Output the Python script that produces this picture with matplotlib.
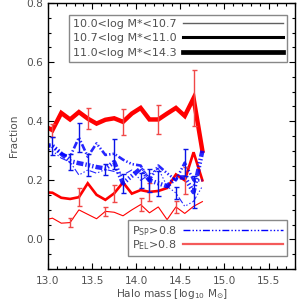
import numpy as np
import matplotlib
matplotlib.use("Agg")
import matplotlib.pyplot as plt
from matplotlib.lines import Line2D
from matplotlib.ticker import MultipleLocator

# bins de masa de halo (centros)
HALO = [12.95, 13.05, 13.15, 13.25, 13.35, 13.45, 13.55, 13.65, 13.75, 13.85,
        13.95, 14.05, 14.15, 14.25, 14.35, 14.45, 14.55, 14.65, 14.75]

# fraccion de eliticas (P_EL > 0.8) por bin de masa estelar
EL_LO = [0.065, 0.072, 0.055, 0.057, 0.100, 0.085, 0.070, 0.095, 0.092, 0.080,
         0.100, 0.118, 0.090, 0.110, 0.067, 0.110, 0.088, 0.112, 0.128]
EL_MID = [0.160, 0.158, 0.141, 0.137, 0.143, 0.190, 0.151, 0.134, 0.156, 0.193,
          0.155, 0.167, 0.161, 0.164, 0.174, 0.220, 0.200, 0.295, 0.200]
EL_HI = [0.385, 0.370, 0.428, 0.406, 0.431, 0.409, 0.392, 0.405, 0.410, 0.398,
         0.426, 0.445, 0.406, 0.406, 0.426, 0.445, 0.418, 0.478, 0.300]

# fraccion de espirales (P_SP > 0.8)
SP_LO = [0.310, 0.300, 0.275, 0.262, 0.218, 0.235, 0.224, 0.237, 0.230, 0.218,
         0.235, 0.200, 0.220, 0.240, 0.180, 0.157, 0.112, 0.129, 0.180]
SP_MID = [0.320, 0.315, 0.290, 0.280, 0.345, 0.280, 0.325, 0.286, 0.290, 0.270,
          0.255, 0.250, 0.200, 0.250, 0.224, 0.200, 0.260, 0.200, 0.200]
SP_HI = [0.320, 0.317, 0.290, 0.265, 0.258, 0.252, 0.245, 0.240, 0.262, 0.190,
         0.215, 0.240, 0.200, 0.190, 0.180, 0.210, 0.210, 0.160, 0.300]

# barras de error (solo cada 4 bins)
ERR_HI_AT = [13.05, 13.45, 13.85, 14.25, 14.65]
ERR_MID_AT = [13.35, 13.75, 14.15, 14.55]
ERR_LO_AT = [13.25, 13.65, 14.05, 14.45]
EL_HI_ERR = [0.022, 0.036, 0.043, 0.048, 0.094]
EL_MID_ERR = [0.030, 0.028, 0.030, 0.045]
EL_LO_ERR = [0.015, 0.015, 0.022, 0.020]
SP_HI_ERR = [0.030, 0.037, 0.033, 0.043, 0.055]
SP_MID_ERR = [0.050, 0.050, 0.040, 0.045]
SP_LO_ERR = [0.028, 0.018, 0.025, 0.020]

LEG_MASS = ["10.0<log M*<10.7", "10.7<log M*<11.0", "11.0<log M*<14.3"]
LEG_TYPE = ["P$_{\\rm SP}$>0.8", "P$_{\\rm EL}$>0.8"]

RED = "#ff0000"
BLUE = "#0000ff"
GRAY = "#505050"
FS = 7.6
WIDTHS = [0.8, 1.9, 3.2]
DASH = (0, (5, 1.5, 1, 1.5, 1, 1.5, 1, 1.5))

plt.rcParams["lines.scale_dashes"] = False
plt.rcParams["font.family"] = "DejaVu Sans"

fig = plt.figure(figsize=(3.06, 3.06), dpi=100)
ax = fig.add_axes([0.157, 0.121, 0.807, 0.869])

for ys, lw in zip([EL_LO, EL_MID, EL_HI], WIDTHS):
    ax.plot(HALO, ys, color=RED, lw=lw, solid_joinstyle="miter")
for ys, lw in zip([SP_LO, SP_MID, SP_HI], WIDTHS):
    ax.plot(HALO, ys, color=BLUE, lw=lw, ls=DASH, alpha=0.85)

groups = [(EL_LO, ERR_LO_AT, EL_LO_ERR, "#f04848"),
          (EL_MID, ERR_MID_AT, EL_MID_ERR, "#f04848"),
          (EL_HI, ERR_HI_AT, EL_HI_ERR, "#f04848"),
          (SP_LO, ERR_LO_AT, SP_LO_ERR, "#0a14e6"),
          (SP_MID, ERR_MID_AT, SP_MID_ERR, "#0a14e6"),
          (SP_HI, ERR_HI_AT, SP_HI_ERR, "#0a14e6")]
for ys, xe, err, col in groups:
    yc = np.interp(xe, HALO, ys)
    ax.errorbar(xe, yc, yerr=err, fmt="none", ecolor=col, elinewidth=1.0,
                capsize=1.8, capthick=1.0)

ax.set_xlim(13.0, 15.8)
ax.set_ylim(-0.1, 0.8)
ax.xaxis.set_major_locator(MultipleLocator(0.5))
ax.xaxis.set_minor_locator(MultipleLocator(0.1))
ax.yaxis.set_major_locator(MultipleLocator(0.2))
ax.yaxis.set_minor_locator(MultipleLocator(0.05))
ax.tick_params(which="both", direction="in", top=True, right=True,
               labelsize=FS, labelcolor=GRAY, width=0.8)
ax.tick_params(which="major", length=4.5)
ax.tick_params(which="minor", length=2)
ax.tick_params(axis="x", pad=5)
ax.set_xticks([13.0, 13.5, 14.0, 14.5, 15.0, 15.5])
ax.set_xticklabels(["13.0", "13.5", "14.0", "14.5", "15.0", "15.5"])
ax.set_yticks([0.0, 0.2, 0.4, 0.6, 0.8])
ax.set_yticklabels(["0.0", "0.2", "0.4", "0.6", "0.8"])
for s in ax.spines.values():
    s.set_linewidth(1.0)

ax.set_xlabel("Halo mass [log$_{10}$ M$_{\\odot}$]", fontsize=FS, color=GRAY, labelpad=1)
ax.set_ylabel("Fraction", fontsize=FS, color=GRAY, labelpad=5)

leg_kw = dict(fontsize=8.0, labelcolor=GRAY, markerfirst=False, handlelength=9.0,
              handletextpad=0.6, labelspacing=0.4, borderpad=0.35, borderaxespad=0,
              fancybox=False, framealpha=1, edgecolor="#888888")

h1 = [Line2D([], [], color="#606060", lw=1.0),
      Line2D([], [], color="black", lw=2.2),
      Line2D([], [], color="black", lw=3.4)]
leg1 = ax.legend(h1, LEG_MASS, loc="upper right", bbox_to_anchor=(0.968, 0.955), **leg_kw)
leg1.get_frame().set_linewidth(1.0)
ax.add_artist(leg1)

h2 = [Line2D([], [], color=BLUE, lw=1.0, ls=DASH),
      Line2D([], [], color="#f45a5a", lw=1.6)]
leg2 = ax.legend(h2, LEG_TYPE, loc="lower right", bbox_to_anchor=(0.968, 0.049),
                 **dict(leg_kw, labelspacing=0.05))
leg2.get_frame().set_linewidth(1.0)

fig.savefig("out.png", dpi=100)
